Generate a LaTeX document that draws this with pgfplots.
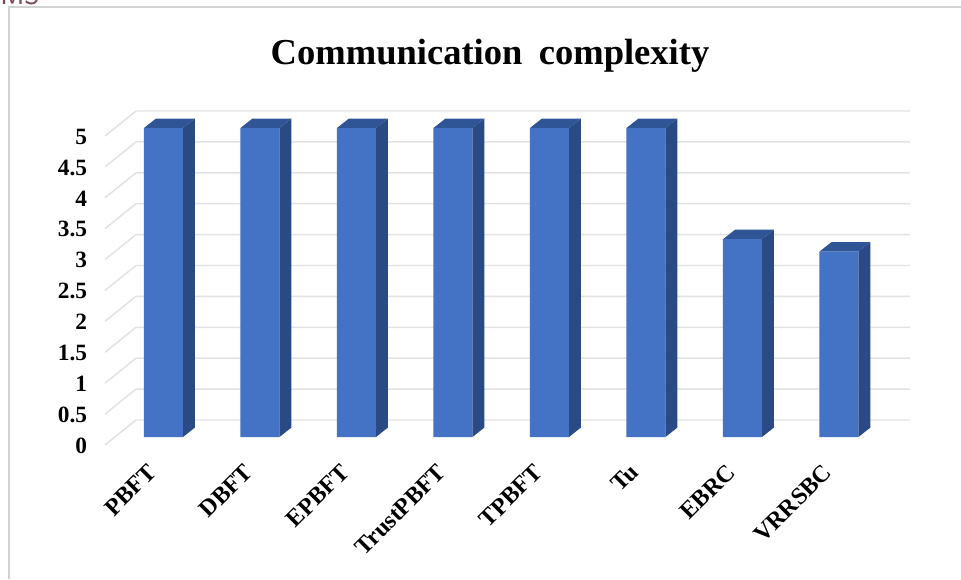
\documentclass[border=0pt]{standalone}
\usepackage{pgfplots}
\pgfplotsset{compat=1.18}
\usepackage{fontspec}
\setmainfont{Liberation Serif}
\definecolor{barfront}{HTML}{4472C4}
\definecolor{barside}{HTML}{2A4A85}
\definecolor{bartop}{HTML}{2F5597}
\definecolor{gridgray}{HTML}{E2E2E2}
\definecolor{framegray}{HTML}{D2D2D2}
\definecolor{cutlabel}{HTML}{7A4A55}

% one drawing pixel
\newcommand{\pxu}{0.75pt}

% side and top faces of a bar at position #1 with height #2
\newcommand{\barfaces}[2]{%
  \pgfmathsetmacro{\xl}{#1-0.2021}%
  \pgfmathsetmacro{\xr}{#1+0.2021}%
  \pgfmathsetmacro{\xlb}{\xl+0.1244}%
  \pgfmathsetmacro{\xrb}{\xr+0.1244}%
  \pgfmathsetmacro{\ybase}{0.1537}%
  \pgfmathsetmacro{\ytop}{#2+0.1537}%
  \edef\facecmds{%
    \noexpand\addplot[draw=none,fill=barside] coordinates {(\xr,0) (\xrb,\ybase) (\xrb,\ytop) (\xr,#2)} --cycle;%
    \noexpand\addplot[draw=none,fill=bartop] coordinates {(\xl,#2) (\xr,#2) (\xrb,\ytop) (\xlb,\ytop)} --cycle;%
  }%
  \facecmds
}

\pgfplotstableread{
pos value
0 5
1 5
2 5
3 5
4 5
5 5
6 3.2
7 3
}\complexitytable

\begin{document}
\begin{tikzpicture}[x=\pxu,y=\pxu]
\useasboundingbox (0,0) rectangle (961,579);
\fill[white] (0,0) rectangle (961,579);

% panel edge and the clipped caption above it
\draw[framegray,line width=1.5pt] (961,572) -- (9,572) -- (9,0);
\node[anchor=base west,inner sep=0pt,text=cutlabel,font=\sffamily\fontsize{22}{22}\selectfont] at (0,574) {MS};

\begin{axis}[
  at={(78.75pt,106.5pt)},anchor=south west,
  scale only axis,
  width=805*\pxu,height=309*\pxu,
  xmin=-0.606,xmax=7.736,ymin=0,ymax=5,
  clip=false,
  axis line style={draw=none},
  tick style={draw=none},
  xtick={0,...,7},
  xticklabels={PBFT,DBFT,EPBFT,TrustPBFT,TPBFT,Tu,EBRC,VRRSBC},
  x tick label style={rotate=45,anchor=north east,inner sep=0pt,yshift=-4.35pt,xshift=-22.4pt,
    font=\bfseries\fontsize{18}{18}\selectfont},
  ytick={0,0.5,1,1.5,2,2.5,3,3.5,4,4.5,5},
  yticklabels={0,0.5,1,1.5,2,2.5,3,3.5,4,4.5,5},
  y tick label style={anchor=east,inner sep=0pt,xshift=-13.25pt,yshift=-6.5pt,
    font=\bfseries\fontsize{17.5}{17.5}\selectfont},
  title={Communication\hspace{0.2em} complexity},
  title style={at={(axis description cs:0.4783,1)},anchor=base,yshift=42pt,inner sep=0pt,
    font=\bfseries\fontsize{27.4}{27.4}\selectfont},
]
% wall and floor gridlines, one break per level
\addplot[gridgray,line width=1.1pt,unbounded coords=jump] coordinates {
  (-0.606,-0.129) (-0.285,0.275) (7.736,0.275) (nan,nan)
  (-0.606,0.371) (-0.285,0.775) (7.736,0.775) (nan,nan)
  (-0.606,0.871) (-0.285,1.275) (7.736,1.275) (nan,nan)
  (-0.606,1.371) (-0.285,1.775) (7.736,1.775) (nan,nan)
  (-0.606,1.871) (-0.285,2.275) (7.736,2.275) (nan,nan)
  (-0.606,2.371) (-0.285,2.775) (7.736,2.775) (nan,nan)
  (-0.606,2.871) (-0.285,3.275) (7.736,3.275) (nan,nan)
  (-0.606,3.371) (-0.285,3.775) (7.736,3.775) (nan,nan)
  (-0.606,3.871) (-0.285,4.275) (7.736,4.275) (nan,nan)
  (-0.606,4.371) (-0.285,4.775) (7.736,4.775) (nan,nan)
  (-0.606,4.871) (-0.285,5.275) (7.736,5.275)
};
\barfaces{0}{5}
\barfaces{1}{5}
\barfaces{2}{5}
\barfaces{3}{5}
\barfaces{4}{5}
\barfaces{5}{5}
\barfaces{6}{3.2}
\barfaces{7}{3}
\addplot[ybar,bar width=39*\pxu,bar shift=0pt,draw=none,fill=barfront] table[x=pos,y=value] {\complexitytable};
\end{axis}
\end{tikzpicture}
\end{document}
